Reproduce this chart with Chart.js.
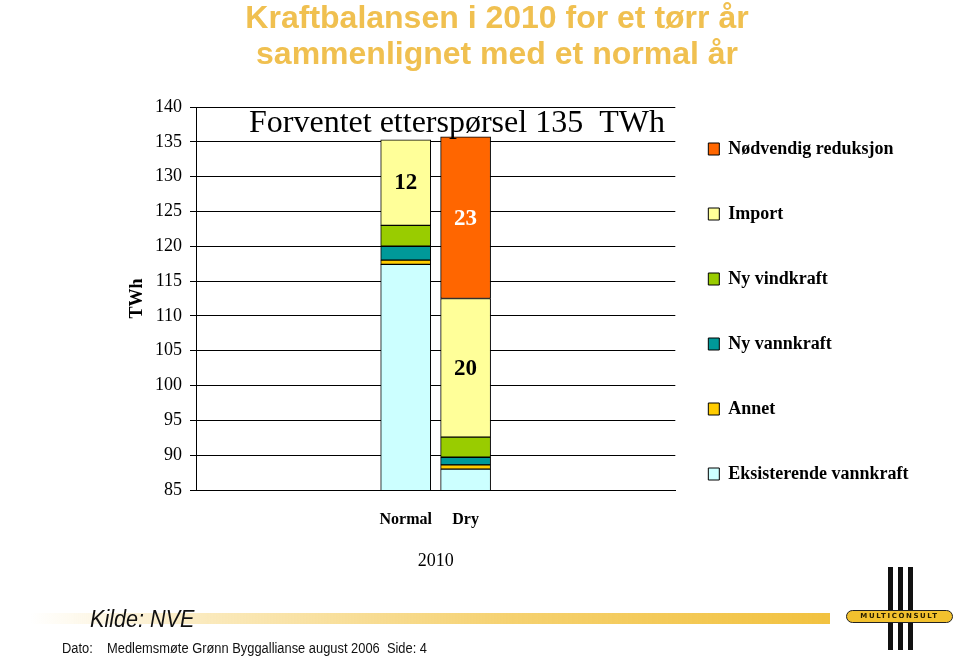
<!DOCTYPE html>
<html>
<head>
<meta charset="utf-8">
<script src="https://cdn.jsdelivr.net/npm/chart.js@4"></script>
<style>
  html, body { margin: 0; padding: 0; background: #fff; }
  #wrap { position: relative; width: 960px; height: 658px; overflow: hidden; background: #fff; }
  #c { position: absolute; left: 0; top: 0; }
  .band { position: absolute; left: 30px; top: 613px; width: 800px; height: 11px;
    background: linear-gradient(to right, rgba(242,194,64,0) 0%, rgba(242,194,64,0.35) 22%, rgba(242,194,64,0.75) 60%, rgba(242,194,64,1) 100%); }
  .kilde { position: absolute; left: 90px; top: 607px; font: italic 24px/24px "Liberation Sans", Arial, sans-serif;
    color: #111; transform: scaleX(0.9); transform-origin: left center; white-space: nowrap; }
  .dato { position: absolute; top: 641px; font: 14px/14px "Liberation Sans", Arial, sans-serif; color: #111;
    transform: scaleX(0.92); transform-origin: left center; white-space: pre; }
  .logo-bar { position: absolute; top: 567px; width: 5px; height: 83px; background: #111; }
  .badge { position: absolute; left: 846px; top: 610px; width: 105px; height: 11px; background: #F2C12E;
    border: 1.5px solid #222; border-radius: 7px; font: bold 7px/11px "DejaVu Sans", sans-serif; letter-spacing: 1.6px;
    text-align: center; color: #2a2000; }
</style>
</head>
<body>
<div id="wrap">
  <canvas id="c" width="960" height="658"></canvas>
  <div class="band"></div>
  <div class="kilde">Kilde: NVE</div>
  <div class="dato" style="left:62px">Dato:</div>
  <div class="dato" style="left:107px">Medlemsmøte Grønn Byggallianse august 2006  Side: 4</div>
  <div class="logo-bar" style="left:888px"></div>
  <div class="logo-bar" style="left:898px"></div>
  <div class="logo-bar" style="left:908px"></div>
  <div class="badge">MULTICONSULT</div>
</div>
<script>
// ---- data ----
const titleLines = ['Kraftbalansen i 2010 for et tørr år', 'sammenlignet med et normal år'];
const categories = ['Normal', 'Dry'];
const xAxisTitle = '2010';
const yAxisTitle = 'TWh';
const yTicks = [85, 90, 95, 100, 105, 110, 115, 120, 125, 130, 135, 140];
const demandText = 'Forventet etterspørsel 135  TWh';

const seriesNames = ['Eksisterende vannkraft', 'Annet', 'Ny vannkraft', 'Ny vindkraft', 'Import', 'Nødvendig reduksjon'];
const eksisterendeVannkraft = [117.4, 88.0];
const annet = [0.6, 0.6];
const nyVannkraft = [2.0, 1.1];
const nyVindkraft = [3.0, 2.9];
const importTWh = [12.3, 19.9];
const nodvendigReduksjon = [0, 23.2];

// ---- styles ----
const seriesColors = ['#CCFFFF', '#FFCC00', '#009999', '#99CC00', '#FFFF99', '#FF6600'];
const valueLabelColors = [null, null, null, null, '#000000', '#FFFFFF'];
const seriesValues = [eksisterendeVannkraft, annet, nyVannkraft, nyVindkraft, importTWh, nodvendigReduksjon];

const serif = '"Liberation Serif", "Times New Roman", serif';
Chart.defaults.font.family = serif;
Chart.defaults.color = '#000';

const catPos = i => i - (categories.length - 1) / 2;

const datasets = seriesNames.map((name, s) => ({
  label: name,
  data: seriesValues[s].map((v, i) => ({ x: catPos(i), y: v })),
  backgroundColor: seriesColors[s],
  borderColor: '#000',
  borderWidth: 1,
  borderSkipped: false,
  barThickness: 50,
  valueLabelColor: valueLabelColors[s]
}));

const barLabels = {
  id: 'barLabels',
  afterDatasetsDraw(chart) {
    const ctx = chart.ctx;
    chart.data.datasets.forEach((ds, di) => {
      if (!ds.valueLabelColor) return;
      const meta = chart.getDatasetMeta(di);
      meta.data.forEach((bar, i) => {
        const v = ds.data[i].y;
        if (!v) return;
        const p = bar.getProps(['x', 'y', 'base'], true);
        ctx.save();
        ctx.font = 'bold 23px ' + serif;
        ctx.fillStyle = ds.valueLabelColor;
        ctx.textAlign = 'center';
        ctx.textBaseline = 'middle';
        ctx.fillText(String(Math.round(v)), p.x, (p.y + p.base) / 2 + 1);
        ctx.restore();
      });
    });
    const ca = chart.chartArea;
    ctx.save();
    ctx.font = '32px ' + serif;
    ctx.fillStyle = '#000';
    ctx.textAlign = 'left';
    ctx.textBaseline = 'alphabetic';
    ctx.fillText(demandText, ca.left + 53, ca.top + 25);
    ctx.restore();
  }
};

new Chart(document.getElementById('c'), {
  type: 'bar',
  data: { datasets },
  plugins: [barLabels],
  options: {
    responsive: false,
    devicePixelRatio: 1,
    animation: false,
    layout: { padding: { left: 75.5, right: 41.5, top: 0, bottom: 60 } },
    plugins: {
      tooltip: { enabled: false },
      title: {
        display: true,
        text: titleLines,
        color: '#F0C050',
        font: { family: '"Liberation Sans", Arial, sans-serif', size: 32, weight: 'bold', lineHeight: '36px' },
        padding: { top: 1, bottom: 34 }
      },
      legend: {
        position: 'right',
        align: 'start',
        reverse: true,
        maxWidth: 400,
        title: { display: true, text: ' ', font: { size: 12, lineHeight: 1.2 }, padding: { top: 92.6, bottom: 0 } },
        labels: {
          boxWidth: 11,
          boxHeight: 12,
          padding: 33,
          color: '#000',
          font: { family: serif, size: 18, weight: 'bold', lineHeight: '32px' },
          generateLabels: (chart) => Chart.defaults.plugins.legend.labels.generateLabels(chart)
            .map(it => Object.assign({}, it, { text: [it.text], lineWidth: 1, strokeStyle: '#000' }))
        }
      }
    },
    scales: {
      x: {
        type: 'linear',
        min: -4,
        max: 4,
        offset: false,
        stacked: true,
        grid: { display: false, drawTicks: false },
        border: { display: true, color: '#000', width: 1 },
        afterBuildTicks: (s) => { s.ticks = categories.map((c, i) => ({ value: catPos(i) })); },
        afterFit: (s) => { s.height = 108; },
        ticks: {
          autoSkip: false, maxRotation: 0, padding: 20, color: '#000',
          font: { family: serif, size: 16, weight: 'bold' },
          callback: (v, i) => categories[i]
        },
        title: { display: true, text: xAxisTitle, color: '#000', font: { family: serif, size: 18 }, padding: { top: 0, bottom: 25.5 } }
      },
      y: {
        stacked: true,
        min: yTicks[0],
        max: yTicks[yTicks.length - 1],
        afterBuildTicks: (s) => { s.ticks = yTicks.map(v => ({ value: v })); },
        afterFit: (s) => { s.width = 120.5; },
        grid: { color: '#000', lineWidth: 1, tickLength: 6, drawTicks: true },
        border: { display: true, color: '#000', width: 1 },
        ticks: { padding: 8, color: '#000', font: { family: serif, size: 18 } },
        title: { display: true, text: yAxisTitle, color: '#000', font: { family: serif, size: 18, weight: 'bold' }, padding: { top: 50.7, bottom: 0 } }
      }
    }
  }
});
</script>
</body>
</html>
